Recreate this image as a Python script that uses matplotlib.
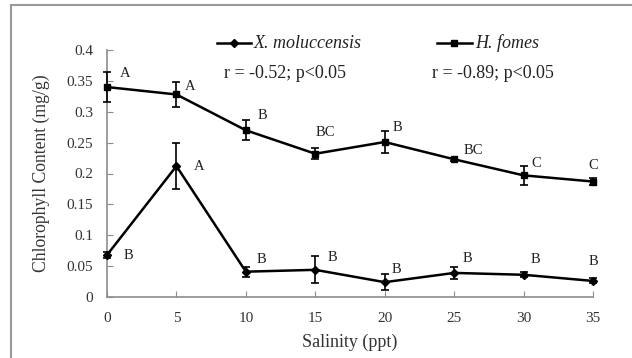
import matplotlib
matplotlib.use("Agg")
import matplotlib.pyplot as plt
from matplotlib.lines import Line2D

plt.rcParams['font.family'] = ['Liberation Serif', 'DejaVu Serif']

# data
salinity = [0, 5, 10, 15, 20, 25, 30, 35]

x_mol = [0.068, 0.212, 0.041, 0.044, 0.024, 0.039, 0.036, 0.026]
x_mol_err = [0.005, 0.037, 0.008, 0.022, 0.013, 0.010, 0.004, 0.004]
x_mol_lab = ['B', 'A', 'B', 'B', 'B', 'B', 'B', 'B']

h_fom = [0.340, 0.328, 0.270, 0.232, 0.251, 0.223, 0.197, 0.187]
h_fom_err = [0.024, 0.020, 0.016, 0.009, 0.018, 0.002, 0.015, 0.005]
h_fom_lab = ['A', 'A', 'B', 'BC', 'B', 'BC', 'C', 'C']

yticks = [0, 0.05, 0.1, 0.15, 0.2, 0.25, 0.3, 0.35, 0.4]
ytick_labels = ['0', '0.05', '0.1', '0.15', '0.2', '0.25', '0.3', '0.35', '0.4']

series_names = ['X. moluccensis', 'H. fomes']
stats_text = ['r = -0.52; p<0.05', 'r = -0.89; p<0.05']

# label offsets in pixels (dx, dy)
x_off = [(21, 0), (23, 0), (16, 12), (17, 12), (12, 13), (13, 14), (12, 15), (0, 19)]
h_off = [(18, 14), (14, 8), (17, 15), (10, 21), (13, 15), (19, 9), (13, 12), (0, 16)]

W, H = 632, 358
fig = plt.figure(figsize=(W / 100, H / 100), dpi=100)
ax = fig.add_axes([107 / W, 1 - 297 / H, (593 - 107) / W, (297 - 50) / H])

kw = dict(color='black', lw=1.8, capsize=2.8, elinewidth=1.2, capthick=1.2,
          clip_on=False, zorder=3)
ax.errorbar(salinity, x_mol, yerr=x_mol_err, marker='D', ms=4.5, **kw)
ax.errorbar(salinity, h_fom, yerr=h_fom_err, marker='s', ms=4, **kw)

for ys, labs, offs in [(x_mol, x_mol_lab, x_off), (h_fom, h_fom_lab, h_off)]:
    for xv, yv, lab, (dx, dy) in zip(salinity, ys, labs, offs):
        ax.annotate(lab, (xv, yv), xytext=(dx * 0.72, dy * 0.72),
                    textcoords='offset points', ha='center', va='center',
                    fontsize=10.5, color='#222222')

ax.set_xlim(0, 35)
ax.set_ylim(0, 0.4)
ax.set_xticks(salinity)
ax.set_yticks(yticks)
ax.set_yticklabels(ytick_labels)
for s in ['top', 'right']:
    ax.spines[s].set_visible(False)
for s in ['left', 'bottom']:
    ax.spines[s].set_color('#8c8c8c')
    ax.spines[s].set_linewidth(1.2)
ax.tick_params(direction='in', length=4, color='#8c8c8c', labelsize=11,
               labelcolor='#333333')
ax.tick_params(axis='x', pad=11)
ax.tick_params(axis='y', pad=10)

ax.set_xlabel('Salinity (ppt)', fontsize=13, color='#333333', labelpad=6)
ax.set_ylabel('Chlorophyll Content (mg/g)', fontsize=12.7, color='#333333',
              labelpad=12)

# legend drawn by hand so the entries sit where the reference has them
leg_x = [(217, 251), (437, 472)]
markers = ['D', 's']
msizes = [4.5, 4]
for (x0, x1), name, m, ms in zip(leg_x, series_names, markers, msizes):
    fig.add_artist(Line2D([x0 / W, x1 / W], [1 - 43 / H] * 2, transform=fig.transFigure,
                          color='black', lw=1.8))
    fig.add_artist(Line2D([(x0 + x1) / 2 / W], [1 - 43 / H], transform=fig.transFigure,
                          color='black', marker=m, ms=ms, lw=0))
    fig.text((x1 + 3) / W, 1 - 43 / H, name, fontsize=13, style='italic',
             va='center', ha='left', color='#222222')
for xs, t in zip([224, 432], stats_text):
    fig.text(xs / W, 1 - 73 / H, t, fontsize=13, va='center', ha='left',
             color='#222222')

# outer frame (left and top edges only visible)
fig.add_artist(Line2D([11 / W, 11 / W], [0, 1 - 5 / H], transform=fig.transFigure,
                      color='#9a9a9a', lw=1.5))
fig.add_artist(Line2D([11 / W, 1], [1 - 5 / H, 1 - 5 / H], transform=fig.transFigure,
                      color='#9a9a9a', lw=1.5))

fig.savefig('out.png', dpi=100)
